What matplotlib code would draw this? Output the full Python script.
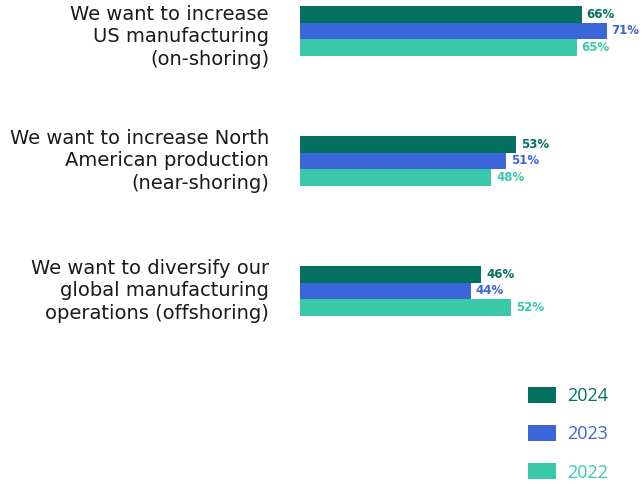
import matplotlib.pyplot as plt
import numpy as np

plt.rcParams['font.family'] = ['Open Sans', 'DejaVu Sans']

categories = [
    "We want to increase\nUS manufacturing\n(on-shoring)",
    "We want to increase North\nAmerican production\n(near-shoring)",
    "We want to diversify our\nglobal manufacturing\noperations (offshoring)",
]
years = ["2024", "2023", "2022"]
values = {
    "2024": [66, 53, 46],
    "2023": [71, 51, 44],
    "2022": [65, 48, 52],
}
colors = {"2024": "#037060", "2023": "#3b66d9", "2022": "#39c9a9"}

W, H = 642, 484
fig = plt.figure(figsize=(W / 100, H / 100), dpi=100)

# axes spans the full height; bars start at x=300px, value scale starts at 10
x0, x1 = 300, 634
ax = fig.add_axes([x0 / W, 0, (x1 - x0) / W, 1])
ax.set_xlim(10, 10 + (x1 - x0) / 5.03)
ax.set_ylim((H - 31) / 130, -31 / 130)
ax.axis('off')

y = np.arange(len(categories))
h = 16.6 / 130
for i, yr in enumerate(years):
    bars = ax.barh(y + (i - 1) * h, values[yr], height=h, color=colors[yr],
                   label=yr, left=0)
    ax.bar_label(bars, labels=[f"{v}%" for v in values[yr]], padding=3.5,
                 color=colors[yr], fontsize=8.5, fontweight='bold',
                 family='DejaVu Sans', clip_on=False)

# category labels, right aligned left of the bars
label_shift = [0.045, 0, 0]
for yi, cat, s in zip(y, categories, label_shift):
    ax.annotate(cat, xy=(0, yi + s), xycoords=('axes fraction', 'data'),
                xytext=(-31, 0), textcoords='offset pixels',
                ha='right', va='center', fontsize=14, color='#1a1a1a',
                family='DejaVu Sans', linespacing=1.22,
                annotation_clip=False)

leg = ax.legend(loc='upper left', bbox_to_anchor=(528 / W, 1 - 387 / H),
                bbox_transform=fig.transFigure, frameon=False, borderpad=0,
                borderaxespad=0, handlelength=1.55, handleheight=1.0,
                handletextpad=0.6, labelspacing=1.1, fontsize=13,
                labelcolor='linecolor')

fig.savefig('out.png', dpi=100)
